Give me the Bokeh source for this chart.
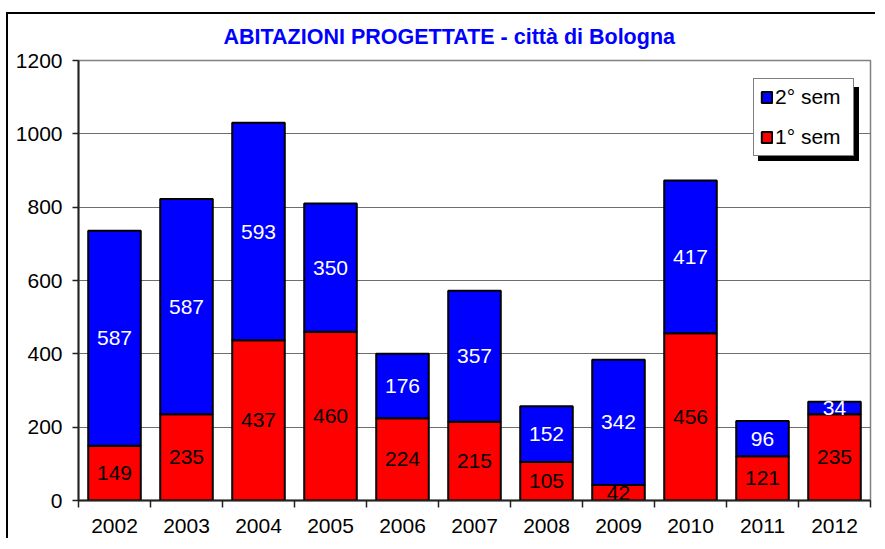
import numpy as np
from bokeh.plotting import figure
from bokeh.models import Range1d, FixedTicker, Legend, LegendItem, ColumnDataSource
from bokeh.core.properties import value
from bokeh.embed import file_html
from bokeh.resources import INLINE

years = ["2002", "2003", "2004", "2005", "2006", "2007", "2008", "2009", "2010", "2011", "2012"]
sem1 = [149, 235, 437, 460, 224, 215, 105, 42, 456, 121, 235]
sem2 = [587, 587, 593, 350, 176, 357, 152, 342, 417, 96, 34]
y_ticks = [0, 200, 400, 600, 800, 1000, 1200]
title_text = "ABITAZIONI PROGETTATE - città di Bologna"

FONT = "Liberation Sans"
idx = np.arange(len(years))
s1 = np.array(sem1)
s2 = np.array(sem2)
tot = s1 + s2

src = ColumnDataSource(dict(x=idx, s1=s1, tot=tot,
                            y1=s1 / 2.0, y2=s1 + s2 / 2.0,
                            t1=[str(v) for v in sem1], t2=[str(v) for v in sem2]))

W, H = 869, 526
p = figure(width=W, height=H, output_backend="svg", toolbar_location=None,
           x_range=Range1d(-0.5, len(years) - 0.5), y_range=Range1d(0, 1200),
           min_border_left=70, min_border_right=7, min_border_top=46, min_border_bottom=40)
p.styles = {"border-top": "2px solid black", "border-left": "2px solid black",
            "margin-top": "12px", "margin-left": "6px"}

p.background_fill_color = "white"
p.border_fill_color = "white"
p.outline_line_color = "#808080"
p.outline_line_width = 1.5

# title
p.title.text = title_text
p.title.align = "left"
p.title.vertical_align = "top"
p.title.text_color = "#0000FF"
p.title.text_font = FONT
p.title.text_font_size = "21.5px"
p.title.text_font_style = "bold"
p.title.offset = 145
p.title.standoff = 20

# bars
r1 = p.vbar(x="x", bottom=0, top="s1", width=0.73, source=src,
            fill_color="#FF0000", line_color="black", line_width=2)
r2 = p.vbar(x="x", bottom="s1", top="tot", width=0.73, source=src,
            fill_color="#0000FF", line_color="black", line_width=2)

# value labels
p.text(x="x", y="y1", text="t1", source=src, text_align="center", text_baseline="middle",
       text_font=value(FONT), text_font_size="21px", text_color="black")
p.text(x="x", y="y2", text="t2", source=src, text_align="center", text_baseline="middle",
       text_font=value(FONT), text_font_size="21px", text_color="white")

# axes
p.yaxis.ticker = FixedTicker(ticks=y_ticks)
p.yaxis.major_tick_out = 6
p.yaxis.major_tick_in = 0
p.yaxis.minor_tick_line_color = None
p.yaxis.axis_line_width = 2
p.yaxis.axis_line_color = "#222222"
p.yaxis.major_tick_line_color = "#222222"
p.yaxis.major_tick_line_width = 1.5
p.yaxis.major_label_standoff = 10
p.yaxis.major_label_text_font = FONT
p.yaxis.major_label_text_font_size = "21px"
p.yaxis.major_label_text_color = "black"

bounds = list(np.arange(len(years) + 1) - 0.5)
p.xaxis.ticker = FixedTicker(ticks=list(idx), minor_ticks=bounds)
p.xaxis.major_label_overrides = {int(i): y for i, y in zip(idx, years)}
p.xaxis.major_tick_out = 0
p.xaxis.major_tick_in = 0
p.xaxis.minor_tick_out = 7
p.xaxis.minor_tick_in = 0
p.xaxis.minor_tick_line_color = "#222222"
p.xaxis.minor_tick_line_width = 1.5
p.xaxis.axis_line_width = 2
p.xaxis.axis_line_color = "#222222"
p.xaxis.major_label_standoff = 11
p.xaxis.major_label_text_font = FONT
p.xaxis.major_label_text_font_size = "21px"
p.xaxis.major_label_text_color = "black"

p.xgrid.grid_line_color = None
p.ygrid.grid_line_color = "#6e6e6e"
p.ygrid.grid_line_width = 1.2

# legend (with shadow drawn by a blank legend of the same size behind it)
items = [LegendItem(label="2° sem", renderers=[r2]), LegendItem(label="1° sem", renderers=[r1])]
shadow_items = [LegendItem(label=" ", renderers=[r2]), LegendItem(label=" ", renderers=[r1])]
common = dict(glyph_width=13, glyph_height=14, label_height=22, label_width=72,
              spacing=16, padding=6, label_standoff=2, label_text_font=FONT,
              label_text_font_size="21px", margin=0, border_line_color="black",
              border_line_width=1)
shadow = Legend(items=shadow_items, location=(680, 339), background_fill_color="black",
                background_fill_alpha=1.0, label_text_color="black", **common)
legend = Legend(items=items, location=(675, 344), background_fill_color="white",
                background_fill_alpha=1.0, label_text_color="black", **common)
p.add_layout(shadow, "center")
p.add_layout(legend, "center")

open("out.html", "w").write(file_html(p, INLINE))
